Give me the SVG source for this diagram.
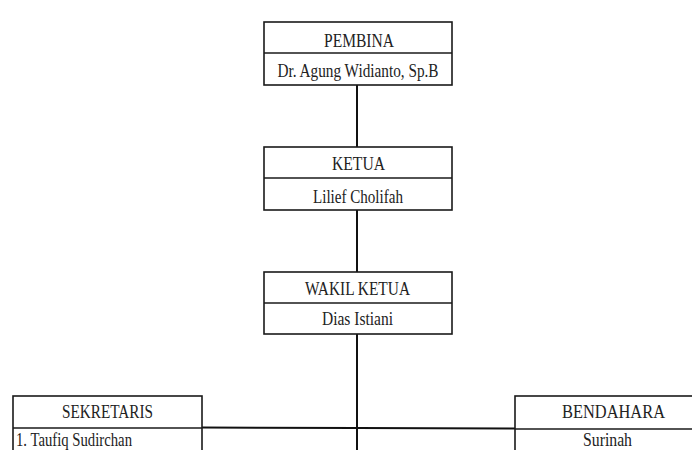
<svg xmlns="http://www.w3.org/2000/svg" width="692" height="450" viewBox="0 0 692 450">
<style>
.box{fill:#fff;stroke:#1a1a1a;stroke-width:1.6}
.div{stroke:#1a1a1a;stroke-width:1.6}
.t{font-family:"Liberation Serif","Times New Roman",serif;font-size:19px;fill:#222}
.c{stroke:#111;stroke-width:2;fill:none}
</style>
<rect width="692" height="450" fill="#fff"/>
<g id="connectors">
<line class="c" x1="357" y1="85" x2="357" y2="147"/>
<line class="c" x1="357" y1="210" x2="357" y2="272"/>
<line class="c" x1="357" y1="334" x2="357" y2="450"/>
<path class="c" d="M202 427.5 L357 428 L515 428.5" stroke-width="2.4"/>
</g>
<g id="pembina">
<rect class="box" x="264" y="22" width="188" height="63"/>
<line class="div" x1="264" y1="53" x2="452" y2="53"/>
<text class="t" x="359" y="47" text-anchor="middle" textLength="70" lengthAdjust="spacingAndGlyphs">PEMBINA</text>
<text class="t" x="358" y="77" text-anchor="middle" textLength="161" lengthAdjust="spacingAndGlyphs">Dr. Agung Widianto, Sp.B</text>
</g>
<g id="ketua">
<rect class="box" x="264" y="147" width="188" height="63"/>
<line class="div" x1="264" y1="178" x2="452" y2="178"/>
<text class="t" x="358.5" y="170" text-anchor="middle" textLength="53" lengthAdjust="spacingAndGlyphs">KETUA</text>
<text class="t" x="358" y="203" text-anchor="middle" textLength="90" lengthAdjust="spacingAndGlyphs">Lilief Cholifah</text>
</g>
<g id="wakil-ketua">
<rect class="box" x="264" y="272" width="188" height="62"/>
<line class="div" x1="264" y1="303" x2="452" y2="303"/>
<text class="t" x="357.5" y="295" text-anchor="middle" textLength="105" lengthAdjust="spacingAndGlyphs">WAKIL KETUA</text>
<text class="t" x="357.5" y="325" text-anchor="middle" textLength="71" lengthAdjust="spacingAndGlyphs">Dias Istiani</text>
</g>
<g id="sekretaris">
<rect class="box" x="13" y="396" width="189" height="70"/>
<line class="div" x1="13" y1="428" x2="202" y2="428"/>
<text class="t" x="107.5" y="418" text-anchor="middle" textLength="91" lengthAdjust="spacingAndGlyphs">SEKRETARIS</text>
<text class="t" x="16" y="446" textLength="116" lengthAdjust="spacingAndGlyphs">1. Taufiq Sudirchan</text>
</g>
<g id="bendahara">
<rect class="box" x="515" y="396" width="197" height="70"/>
<line class="div" x1="515" y1="429" x2="712" y2="429"/>
<text class="t" x="613.5" y="418" text-anchor="middle" textLength="103" lengthAdjust="spacingAndGlyphs">BENDAHARA</text>
<text class="t" x="607.5" y="446" text-anchor="middle" textLength="49" lengthAdjust="spacingAndGlyphs">Surinah</text>
</g>
</svg>
